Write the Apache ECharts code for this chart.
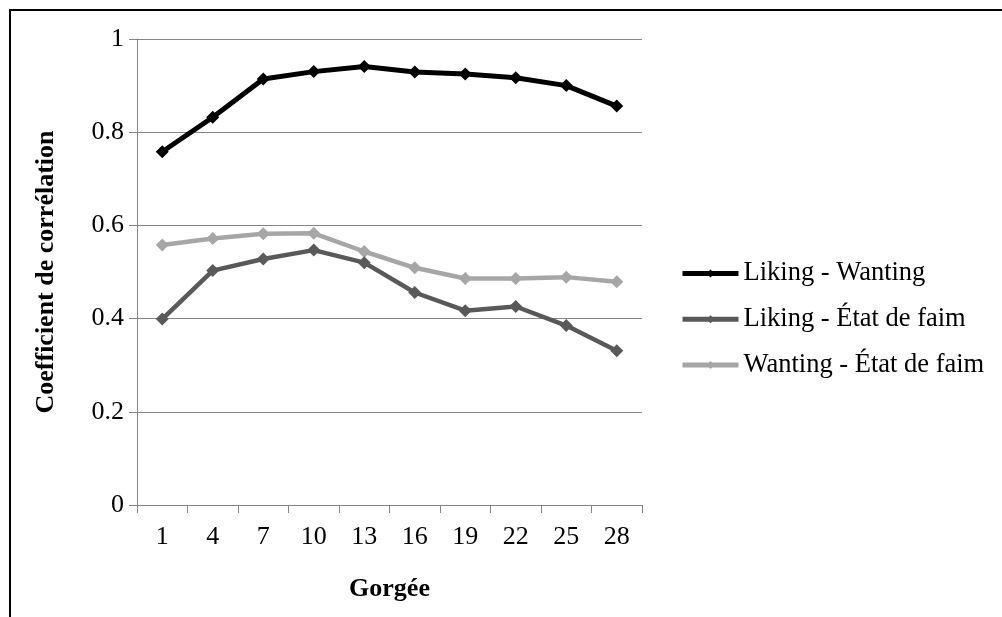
<!DOCTYPE html>
<html>
<head>
<meta charset="utf-8">
<script src="https://cdn.jsdelivr.net/npm/echarts@6/dist/echarts.min.js"></script>
<style>
html,body{margin:0;padding:0;background:#fff;}
#chart{width:1002px;height:617px;}
</style>
</head>
<body>
<div id="chart"></div>
<script>
const categories = ['1','4','7','10','13','16','19','22','25','28'];
const likingWanting = [0.758, 0.832, 0.914, 0.930, 0.941, 0.929, 0.925, 0.917, 0.900, 0.856];
const likingFaim = [0.399, 0.503, 0.528, 0.547, 0.520, 0.456, 0.417, 0.426, 0.385, 0.331];
const wantingFaim = [0.558, 0.572, 0.582, 0.583, 0.544, 0.509, 0.486, 0.486, 0.489, 0.479];
const seriesNames = ['Liking - Wanting', 'Liking - État de faim', 'Wanting - État de faim'];
const seriesColors = ['#000000', '#595959', '#a6a6a6'];
const yTicks = [0, 0.2, 0.4, 0.6, 0.8, 1];

const FONT = "'Liberation Serif', 'Times New Roman', serif";
const chart = echarts.init(document.getElementById('chart'), null, {renderer: 'canvas'});
const dataSets = [likingWanting, likingFaim, wantingFaim];

chart.setOption({
  animation: false,
  backgroundColor: '#ffffff',
  grid: {left: 137, right: 360, top: 39, bottom: 112, containLabel: false},
  graphic: [{
    type: 'polyline',
    shape: {points: [[10, 617], [10, 10], [1002, 10]]},
    style: {stroke: '#000', lineWidth: 2, fill: null},
    silent: true
  }],
  legend: {
    orient: 'vertical',
    left: 680,
    top: 258.5,
    padding: 0,
    itemWidth: 56,
    itemHeight: 10,
    itemGap: 15.7,
    data: seriesNames,
    lineStyle: {width: 5},
    textStyle: {fontFamily: FONT, fontSize: 26.5, color: '#000', lineHeight: 30}
  },
  xAxis: {
    type: 'category',
    data: categories,
    boundaryGap: true,
    name: 'Gorgée',
    nameLocation: 'middle',
    nameGap: 71,
    nameTextStyle: {fontFamily: FONT, fontSize: 26, fontWeight: 'bold', color: '#000'},
    axisLine: {show: true, lineStyle: {color: '#868686', width: 1}},
    axisTick: {show: true, length: 8, alignWithLabel: false, lineStyle: {color: '#868686'}},
    axisLabel: {fontFamily: FONT, fontSize: 26, color: '#000', margin: 19},
    splitLine: {show: false}
  },
  yAxis: {
    type: 'value',
    min: yTicks[0],
    max: yTicks[yTicks.length - 1],
    interval: 0.2,
    name: 'Coefficient de corrélation',
    nameLocation: 'middle',
    nameGap: 78,
    nameRotate: 90,
    nameTextStyle: {fontFamily: FONT, fontSize: 26, fontWeight: 'bold', color: '#000'},
    axisLine: {show: true, lineStyle: {color: '#868686', width: 1}},
    axisTick: {show: true, length: 8, lineStyle: {color: '#868686'}},
    axisLabel: {fontFamily: FONT, fontSize: 26, color: '#000', margin: 13},
    splitLine: {show: true, lineStyle: {color: '#868686', width: 1}}
  },
  series: dataSets.map((d, i) => ({
    name: seriesNames[i],
    type: 'line',
    data: d,
    symbol: 'diamond',
    symbolSize: 13,
    showSymbol: true,
    lineStyle: {color: seriesColors[i], width: i === 0 ? 5 : 4.5},
    itemStyle: {color: seriesColors[i]},
    z: 10 - i
  }))
});
</script>
</body>
</html>
